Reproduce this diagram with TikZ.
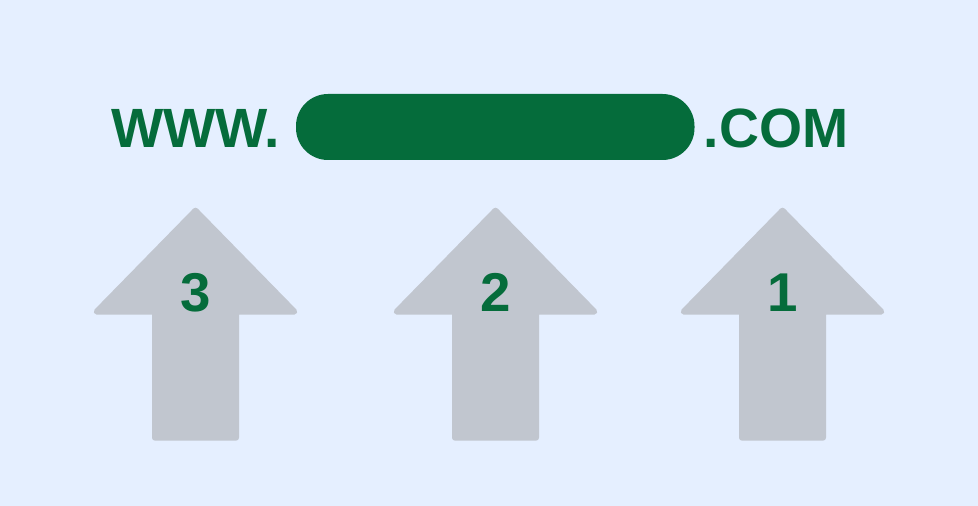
\documentclass[tikz,border=0pt]{standalone}
\usepackage{fontspec}
\setmainfont{Liberation Sans}
\definecolor{fondbleu}{HTML}{E5EFFF}
\definecolor{vertfonce}{HTML}{056C3B}
\definecolor{grisfleche}{HTML}{C1C6CF}
\tikzset{
	x=0.75pt,y=-0.75pt,
	urltext/.style={text=vertfonce,font=\fontsize{41.5}{41.5}\selectfont\bfseries,inner sep=0pt},
	numtext/.style={text=vertfonce,font=\fontsize{41}{41}\selectfont\bfseries,inner sep=0pt,anchor=base},
	flechestyle/.style={fill=grisfleche,draw=grisfleche,line width=4.5pt,line join=round}
}
\newcommand{\fleche}[2]{
	\draw [flechestyle] (#1,210.7)-- (#1+98.8,311.7)-- (#1+40.5,311.7)-- (#1+40.5,437.7)-- (#1-40.5,437.7)-- (#1-40.5,311.7)-- (#1-98.8,311.7)-- cycle;
	\node [numtext] (n#2) at (#1,311) {#2};
}
\begin{document}
\begin{tikzpicture}
	\useasboundingbox [fill=fondbleu] (0,0) rectangle (978,506);
	\fill [vertfonce,rounded corners=24pt] (296,94) rectangle (694.5,160);
	\node [urltext,anchor=base east] (www) at (280.5,147.3) {WWW.};
	\node [urltext,anchor=base west] (com) at (703.5,147.3) {.COM};
	\fleche{195.5}{3}
	\fleche{495.5}{2}
	\fleche{782.5}{1}
\end{tikzpicture}
\end{document}
